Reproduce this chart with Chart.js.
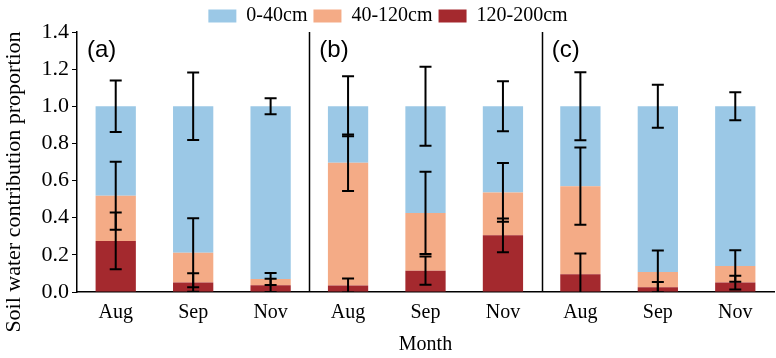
<!DOCTYPE html>
<html>
<head>
<meta charset="utf-8">
<script src="https://cdn.jsdelivr.net/npm/chart.js@4"></script>
<style>
  body { margin: 0; background: #fff; }
  #wrap { width: 776px; height: 358px; }
</style>
</head>
<body>
<div id="wrap"><canvas id="soilChart"></canvas></div>
<script>
// three panels (a) (b) (c), each with Aug / Sep / Nov
const months = ["Aug", "Sep", "Nov", "Aug", "Sep", "Nov", "Aug", "Sep", "Nov"];
const panelLabels = ["(a)", "(b)", "(c)"];
const yTicks = [0, 0.2, 0.4, 0.6, 0.8, 1.0, 1.2, 1.4];
const yTitle = "Soil water contribution proportion";

// layer proportions (stacked, bottom to top)
const deep = [0.275, 0.051, 0.036, 0.035, 0.115, 0.305, 0.095, 0.026, 0.051];      // 120-200cm
const middle = [0.243, 0.160, 0.034, 0.661, 0.311, 0.231, 0.475, 0.082, 0.089];    // 40-120cm
const shallow = [0.482, 0.789, 0.930, 0.304, 0.574, 0.464, 0.430, 0.892, 0.860];   // 0-40cm

// error (+/-) shown at the top of each layer
const deepErr = [0.153, 0.050, 0.036, 0.038, 0.076, 0.091, 0.112, 0.028, 0.037];
const middleErr = [0.183, 0.186, 0.032, 0.152, 0.222, 0.158, 0.208, 0.115, 0.085];
const shallowErr = [0.139, 0.182, 0.043, 0.162, 0.213, 0.135, 0.183, 0.116, 0.075];

const errors = [deepErr, middleErr, shallowErr];

Chart.defaults.font.family = '"Liberation Serif", "Times New Roman", serif';
Chart.defaults.font.size = 20;
Chart.defaults.color = "#000";

// error bars drawn on top of the stacks
const errorBars = {
    id: "errorBars",
    afterDatasetsDraw(chart) {
        const { ctx, chartArea, scales } = chart;
        const x = scales.x, y = scales.y;
        ctx.save();
        ctx.beginPath();
        ctx.rect(chartArea.left, chartArea.top - 2, chartArea.width, chartArea.height + 2);
        ctx.clip();
        ctx.strokeStyle = "#000";
        ctx.lineWidth = 2;
        months.forEach((m, i) => {
            let top = 0;
            const px = x.getPixelForValue(i);
            chart.data.datasets.forEach((ds, k) => {
                top += ds.data[i];
                const e = errors[k][i];
                const hi = y.getPixelForValue(top + e);
                const lo = y.getPixelForValue(top - e);
                ctx.beginPath();
                ctx.moveTo(px, hi);
                ctx.lineTo(px, lo);
                ctx.moveTo(px - 6, hi);
                ctx.lineTo(px + 6, hi);
                ctx.moveTo(px - 6, lo);
                ctx.lineTo(px + 6, lo);
                ctx.stroke();
            });
        });
        ctx.restore();
    }
};

// panel separators, (a)/(b)/(c) labels and the y axis title
const panels = {
    id: "panels",
    beforeInit(chart) {
        // legend sits a bit tighter to the plot than the default
        const fit = chart.legend.fit;
        chart.legend.fit = function () {
            fit.call(this);
            this.height -= 4;
        };
    },
    afterDraw(chart) {
        const { ctx, chartArea, scales } = chart;
        const x = scales.x, y = scales.y;
        ctx.save();
        ctx.strokeStyle = "#000";
        ctx.lineWidth = 1.5;
        [2.5, 5.5].forEach(v => {
            const px = Math.round(x.getPixelForValue(v)) + 0.5;
            ctx.beginPath();
            ctx.moveTo(px, chartArea.top);
            ctx.lineTo(px, chartArea.bottom);
            ctx.stroke();
        });
        ctx.fillStyle = "#000";
        ctx.font = '24px "Liberation Sans", Arial, sans-serif';
        ctx.textBaseline = "middle";
        panelLabels.forEach((lab, p) => {
            const px = x.getPixelForValue(p * 3 - 0.5) + 10;
            ctx.fillText(lab, px, y.getPixelForValue(1.3));
        });

        ctx.translate(14, chart.height / 2 + 3);
        ctx.rotate(-Math.PI / 2);
        ctx.textAlign = "center";
        ctx.font = '22px "Liberation Serif", "Times New Roman", serif';
        ctx.fillText(yTitle, 0, 0);
        ctx.restore();
    }
};

new Chart(document.getElementById("soilChart"), {
    type: "bar",
    data: {
        labels: months,
        datasets: [
            { label: "120-200cm", data: deep, backgroundColor: "#A4292E" },
            { label: "40-120cm", data: middle, backgroundColor: "#F4AB86" },
            { label: "0-40cm", data: shallow, backgroundColor: "#9BC8E6" }
        ]
    },
    options: {
        responsive: true,
        maintainAspectRatio: false,
        animation: false,
        layout: { padding: { left: 2, right: 2, top: 0, bottom: 1 } },
        datasets: {
            bar: { categoryPercentage: 1, barPercentage: 0.52 }
        },
        plugins: {
            legend: {
                position: "top",
                reverse: true,
                labels: {
                    boxWidth: 28,
                    boxHeight: 13,
                    padding: 6,
                    font: { size: 20 }
                }
            },
            tooltip: { enabled: false }
        },
        scales: {
            x: {
                stacked: true,
                grid: { display: false },
                border: { display: true, color: "#000", width: 1.5 },
                ticks: { padding: 1, font: { size: 20 } },
                title: { display: true, text: "Month", font: { size: 20 }, padding: { top: 7, bottom: 0 } }
            },
            y: {
                stacked: true,
                min: 0,
                max: 1.4,
                afterBuildTicks(axis) {
                    axis.ticks = yTicks.map(v => ({ value: v }));
                },
                afterFit(axis) {
                    axis.width = 75;   // room for the hand-drawn axis title
                },
                grid: { drawOnChartArea: false, drawTicks: true, tickLength: 5, color: "#000" },
                border: { display: true, color: "#000", width: 1.5 },
                ticks: {
                    padding: 3,
                    font: { size: 22 },
                    callback: v => v.toFixed(1)
                }
            }
        }
    },
    plugins: [errorBars, panels]
});
</script>
</body>
</html>
